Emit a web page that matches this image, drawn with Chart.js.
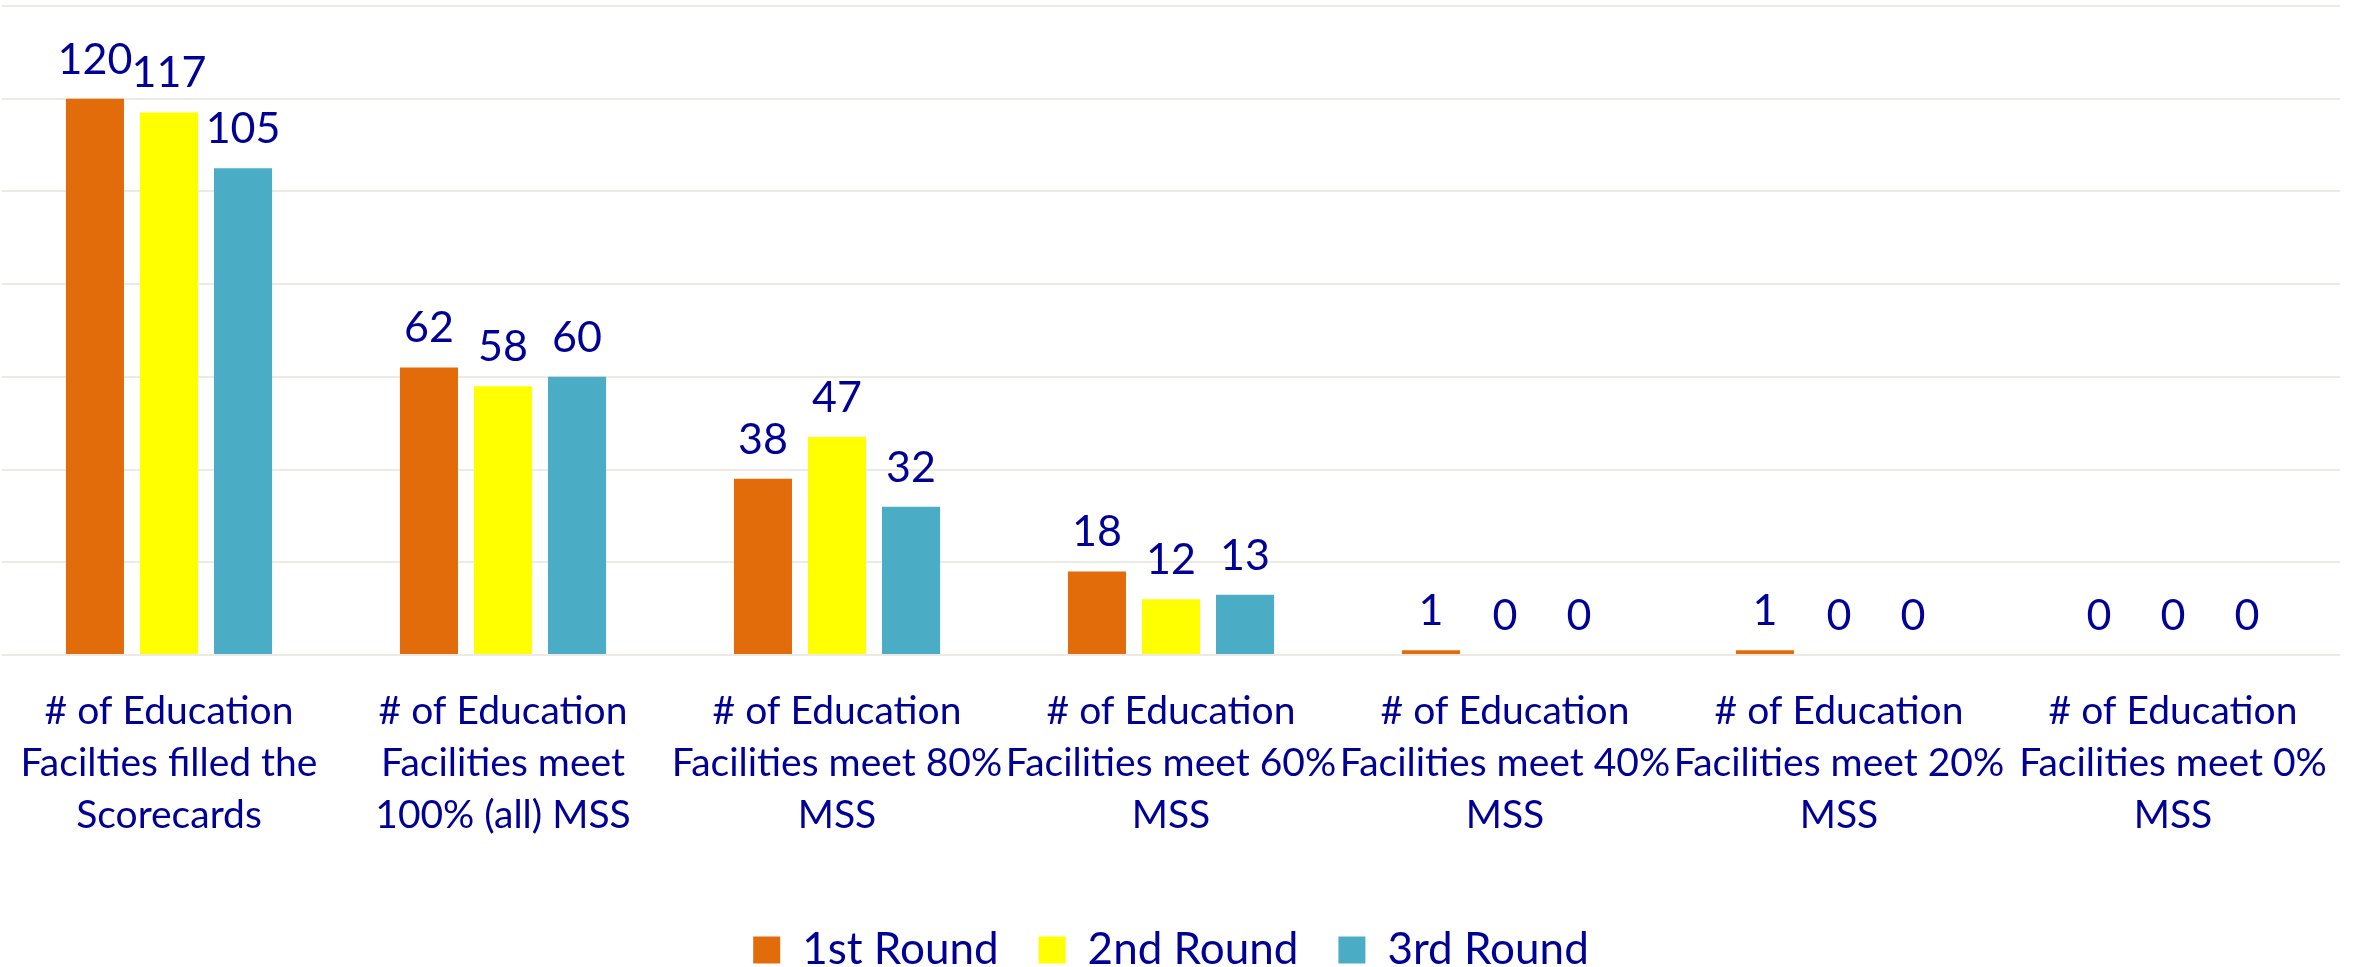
<!DOCTYPE html>
<html lang="en">
<head>
    <meta charset="UTF-8">
    <title>Education Facilities Scorecards</title>
    <script src="https://cdn.jsdelivr.net/npm/chart.js"></script>
    <style>
        html, body {
            margin: 0;
            padding: 0;
            background: #fff;
        }
        .chart-box {
            width: 2361px;
            height: 967px;
        }
    </style>
</head>
<body>
    <div class="chart-box">
        <canvas id="chart"></canvas>
    </div>
    <script>
        const categories = [
            ["# of Education", "Facilties filled the", "Scorecards"],
            ["# of Education", "Facilities meet", "100% (all) MSS"],
            ["# of Education", "Facilities meet 80%", "MSS"],
            ["# of Education", "Facilities meet 60%", "MSS"],
            ["# of Education", "Facilities meet 40%", "MSS"],
            ["# of Education", "Facilities meet 20%", "MSS"],
            ["# of Education", "Facilities meet 0%", "MSS"]
        ];
        const seriesNames = ["1st Round", "2nd Round", "3rd Round"];
        const round1 = [120, 62, 38, 18, 1, 1, 0];
        const round2 = [117, 58, 47, 12, 0, 0, 0];
        const round3 = [105, 60, 32, 13, 0, 0, 0];
        const seriesColors = ["#E36C0A", "#FFFF00", "#4BACC6"];
        const yMax = 140;
        const yStep = 20;

        const textColor = "#000096";
        const fontFamily = "Lato, 'Open Sans', sans-serif";

        // value labels above each bar
        const barValueLabels = {
            id: "barValueLabels",
            afterDatasetsDraw(chart) {
                const ctx = chart.ctx;
                ctx.save();
                ctx.fillStyle = textColor;
                ctx.font = "43px " + fontFamily;
                ctx.textAlign = "center";
                ctx.textBaseline = "middle";
                chart.data.datasets.forEach((ds, i) => {
                    const meta = chart.getDatasetMeta(i);
                    meta.data.forEach((bar, j) => {
                        ctx.fillText(String(ds.data[j]), bar.x, bar.y - 39);
                    });
                });
                ctx.restore();
            }
        };

        const allSeries = [round1, round2, round3];

        new Chart(document.getElementById("chart"), {
            type: "bar",
            data: {
                labels: categories,
                datasets: allSeries.map((values, i) => ({
                    label: seriesNames[i],
                    data: values,
                    backgroundColor: seriesColors[i],
                    borderWidth: 0,
                    categoryPercentage: 0.665,
                    barPercentage: 0.784
                }))
            },
            options: {
                responsive: true,
                maintainAspectRatio: false,
                animation: false,
                layout: {
                    padding: { top: 6, left: 2, right: 21, bottom: -15 }
                },
                plugins: {
                    tooltip: { enabled: false },
                    legend: {
                        position: "bottom",
                        labels: {
                            boxWidth: 27,
                            boxHeight: 27,
                            padding: 40,
                            color: textColor,
                            font: { family: fontFamily, size: 44 }
                        }
                    }
                },
                scales: {
                    x: {
                        grid: { display: false, drawTicks: false },
                        border: { display: false },
                        ticks: {
                            color: textColor,
                            padding: 30,
                            maxRotation: 0,
                            autoSkip: false,
                            font: { family: fontFamily, size: 39, lineHeight: "52px" }
                        },
                        afterFit(scale) {
                            // labels may overhang the plot edges, as in the original
                            scale.paddingLeft = 0;
                            scale.paddingRight = 0;
                            scale.height += 17;
                        }
                    },
                    y: {
                        min: 0,
                        max: yMax,
                        ticks: { display: false, stepSize: yStep },
                        grid: { color: "#ECEAE2", lineWidth: 2, drawTicks: false },
                        border: { display: false }
                    }
                }
            },
            plugins: [barValueLabels]
        });
    </script>
</body>
</html>
